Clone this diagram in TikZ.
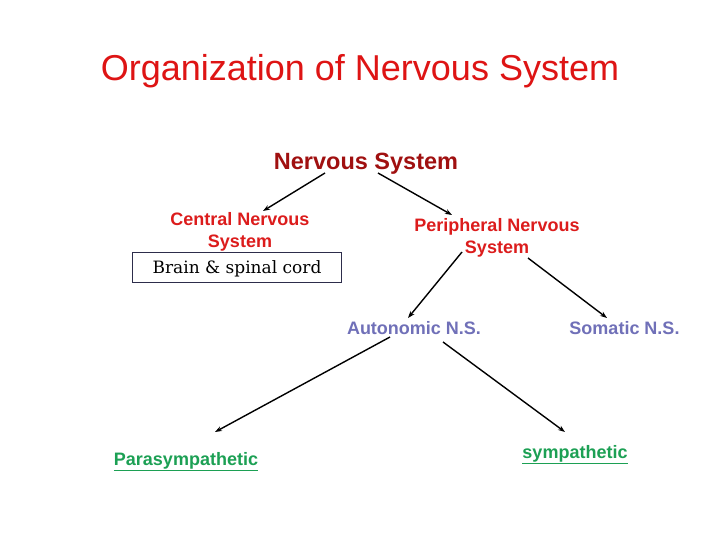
\documentclass[tikz,border=0pt]{standalone}
\usepackage{fontspec}
\setsansfont{Liberation Sans}
\newfontfamily\boxserif{DejaVu Serif}
\usetikzlibrary{arrows.meta}
\definecolor{titlered}{RGB}{222,20,20}
\definecolor{darkred}{RGB}{160,16,16}
\definecolor{brightred}{RGB}{220,28,28}
\definecolor{lav}{RGB}{112,112,184}
\definecolor{grn}{RGB}{28,160,84}
\definecolor{boxline}{RGB}{45,45,75}
\tikzset{
  lbl/.style={inner sep=0pt, align=center, font=\sffamily\bfseries\fontsize{18}{22}\selectfont},
  arr/.style={-{Stealth[length=7pt,width=5pt]}, line width=1.4pt, black},
}
\begin{document}
\begin{tikzpicture}[x=1pt,y=-1pt]
\useasboundingbox (0,0) rectangle (720,540);
\fill[white] (0,0) rectangle (720,540);
\node[inner sep=0pt, text=titlered, font=\sffamily\fontsize{36}{40}\selectfont] (title) at (360,71) {Organization of Nervous System};
\node[lbl, text=darkred, font=\sffamily\bfseries\fontsize{23.5}{26}\selectfont] (ns) at (366,164) {Nervous System};
\node[lbl, text=brightred] (cns) at (240,231.5) {Central Nervous\\System};
\node[lbl, text=brightred] (pns) at (497,237.5) {Peripheral Nervous\\System};
\node[draw=boxline, line width=0.9pt, minimum width=209.5pt, minimum height=29.5pt, inner sep=0pt, text height=15pt, text depth=3pt, font=\boxserif\fontsize{17}{20}\selectfont] (brain) at (237,267.5) {Brain \& spinal cord};
\node[lbl, text=lav] (ans) at (414,328.5) {Autonomic N.S.};
\node[lbl, text=lav] (sns) at (624.5,328.5) {Somatic N.S.};
\node[lbl, text=grn] (para) at (186,461.5) {\underline{Parasympathetic}};
\node[lbl, text=grn] (sym) at (575,454.5) {\underline{sympathetic}};
\draw[arr] ([shift={(-41,9)}]ns.center) -- ([shift={(23,-20.5)}]cns.center);
\draw[arr] ([shift={(12,9)}]ns.center) -- ([shift={(-45,-22.5)}]pns.center);
\draw[arr] ([shift={(-35,14.5)}]pns.center) -- ([shift={(-6,-10.5)}]ans.center);
\draw[arr] ([shift={(31,20.5)}]pns.center) -- ([shift={(-17.5,-10.5)}]sns.center);
\draw[arr] ([shift={(-24,8.5)}]ans.center) -- ([shift={(29,-29.5)}]para.center);
\draw[arr] ([shift={(29,13.5)}]ans.center) -- ([shift={(-10,-22.5)}]sym.center);
\end{tikzpicture}
\end{document}
